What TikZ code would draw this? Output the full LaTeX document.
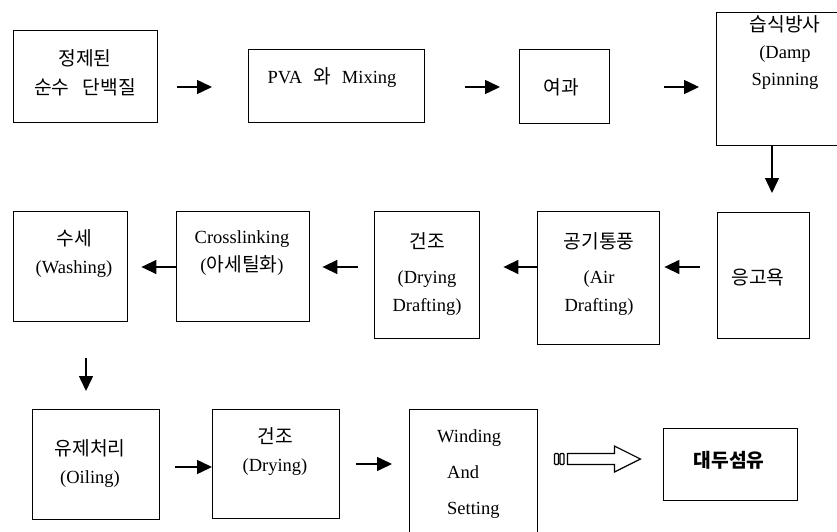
\documentclass[tikz,border=0pt]{standalone}
\usepackage{fontspec}
\setmainfont{Liberation Serif}
\newfontfamily\kr{Noto Sans CJK KR}[Scale=1.04]
\newcommand{\hkr}[1]{{\kr #1}}
\usetikzlibrary{arrows.meta,calc}
\begin{document}
\begin{tikzpicture}[x=1pt,y=-1pt,
  box/.style={draw,line width=1.4pt,rectangle,anchor=north west,inner sep=0pt},
  txt/.style={align=center,inner sep=0pt,font=\fontsize{18.5}{28}\selectfont},
  arr/.style={line width=1.5pt,-{Triangle[length=15pt,width=14pt]}},
  fat/.style={draw,line width=1.2pt,fill=white,line join=miter}
]
\clip (0,0) rectangle (837,532);
\fill[white] (0,0) rectangle (837,532);
% row 1
\node[box,minimum width=144pt,minimum height=92pt] (b1) at (13,30) {};
\node[box,minimum width=176pt,minimum height=73pt] (b2) at (248,49) {};
\node[box,minimum width=90pt,minimum height=74pt] (b3) at (519,49) {};
\node[box,minimum width=145pt,minimum height=133pt] (b4) at (716,12) {};
% row 2
\node[box,minimum width=92pt,minimum height=126pt] (b5) at (717,212) {};
\node[box,minimum width=122pt,minimum height=133pt] (b6) at (537,211) {};
\node[box,minimum width=105pt,minimum height=127pt] (b7) at (374,211) {};
\node[box,minimum width=133pt,minimum height=110pt] (b8) at (176,211) {};
\node[box,minimum width=114pt,minimum height=110pt] (b9) at (13,211) {};
% row 3
\node[box,minimum width=127pt,minimum height=110pt] (b10) at (32,409) {};
\node[box,minimum width=127pt,minimum height=109pt] (b11) at (212,409) {};
\node[box,minimum width=128pt,minimum height=140pt] (b12) at (409,409) {};
\node[box,minimum width=134pt,minimum height=72pt] (b13) at (663,428) {};
% texts
\node[txt,font=\fontsize{18.5}{29}\selectfont] (t1) at (85,73) {\hkr{정제된}\\\hkr{순수\hspace{13pt}단백질}};
\node[txt] (t2) at (332,78) {PVA\hspace{11pt}\hkr{와}\hspace{11pt}Mixing};
\node[txt] (t3) at (561,87) {\hkr{여과}};
\node[txt,font=\fontsize{18.5}{27}\selectfont] (t4) at (785,53) {\hkr{습식방사}\\(Damp\\Spinning};
\node[txt] (t5) at (758,277) {\hkr{응고욕}};
\node[txt] (t6) at (599,274) {\hkr{공기통풍}\\[7pt](Air\\Drafting)};
\node[txt] (t7) at (427,274) {\hkr{건조}\\[7pt](Drying\\Drafting)};
\node[txt] (t8) at (242,253) {Crosslinking\\(\hkr{아세틸화})};
\node[txt] (t9) at (74,254) {\hkr{수세}\\(Washing)};
\node[txt] (t10) at (90,464) {\hkr{유제처리}\\(Oiling)};
\node[txt] (t11) at (275,452) {\hkr{건조}\\(Drying)};
\node[txt,align=left,anchor=west,font=\fontsize{18.5}{36}\selectfont] (t12) at (437,474) {Winding\\\hspace{10pt}And\\\hspace{10pt}Setting};
\node[txt] (t13) at (729,460) {\bfseries\hkr{대두섬유}};
% arrows
\draw[arr] ($(b1.north east)+(19,57)$) -- ($(b2.north west)+(-36,38)$);
\draw[arr] ($(b2.north east)+(40,38)$) -- ($(b3.north west)+(-19,38)$);
\draw[arr] ($(b3.north east)+(54,38)$) -- ($(b4.north west)+(-17,75)$);
\draw[arr] ($(b4.south west)+(56,0)$) -- ($(b5.north west)+(55,-19)$);
\draw[arr] ($(b5.north west)+(-17,55)$) -- ($(b6.north east)+(4,56)$);
\draw[arr] ($(b6.north west)+(0,56)$) -- ($(b7.north east)+(23,56)$);
\draw[arr] ($(b7.north west)+(-16,56)$) -- ($(b8.north east)+(12,56)$);
\draw[arr] ($(b8.north west)+(1,56)$) -- ($(b9.north east)+(13,56)$);
\draw[arr] ($(b9.south west)+(73,36)$) -- ($(b10.north west)+(54,-18)$);
\draw[arr] ($(b10.north east)+(15,58)$) -- ($(b11.north west)+(0,58)$);
\draw[arr] ($(b11.north east)+(16,55)$) -- ($(b12.north west)+(-17,55)$);
% striped block arrow from b12 to b13
\coordinate (fs) at ($(b12.north east)+(16,50)$);
\coordinate (fe) at ($(b13.north west)+(-24,31)$);
\begin{scope}[shift={(fs)}]
  \draw[fat,rounded corners=1pt] (0,-5.5) rectangle (4,5.5);
  \draw[fat,rounded corners=1pt] (5.5,-5.5) rectangle (9.5,5.5);
  \draw[fat] (13,-5.5) -- (60,-5.5) -- (60,-13) -- (86,0) -- (60,13) -- (60,5.5) -- (13,5.5) -- cycle;
\end{scope}
\end{tikzpicture}
\end{document}
